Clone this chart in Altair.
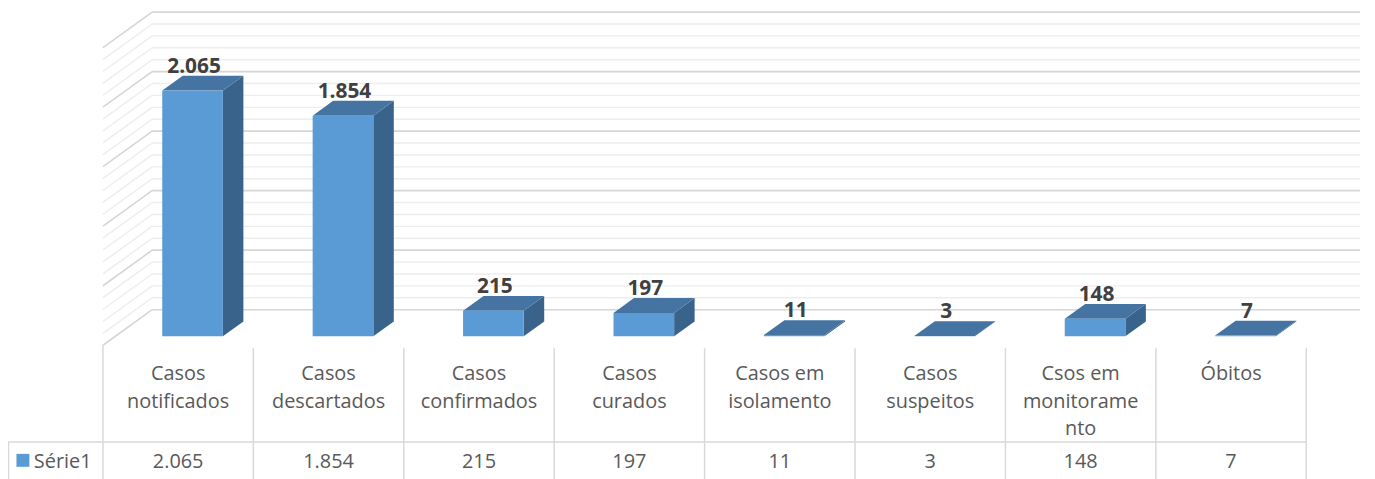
import altair as alt
import pandas as pd

# ---------------- data ----------------
categories = ["Casos notificados", "Casos descartados", "Casos confirmados",
              "Casos curados", "Casos em isolamento", "Casos suspeitos",
              "Csos em monitoramento", "Óbitos"]
header_lines = ["Casos\nnotificados", "Casos\ndescartados", "Casos\nconfirmados",
                "Casos\ncurados", "Casos em\nisolamento", "Casos\nsuspeitos",
                "Csos em\nmonitorame\nnto", "Óbitos"]
values = [2065, 1854, 215, 197, 11, 3, 148, 7]
series_name = "Série1"
grid_values = list(range(0, 2501, 100))
major_step = 500

# ---------------- layout (pixels) ----------------
COL0 = 103.5      # left edge of first table column
COLW = 151.3      # column width
BASE = 336.0      # pixel row of value 0 on the bars' front plane
K = 0.1205        # pixels per value unit
DXD = 1.375       # x shift per pixel of depth


def ux(px):
    return (px - COL0) / COLW


def vy(py):
    return (BASE - py) / K


W, H = 1367, 471
xs = alt.Scale(domain=[ux(8), ux(1375)], nice=False, zero=False)
ys = alt.Scale(domain=[vy(479), vy(5)], nice=False, zero=False)

FRONT = "#5B9BD5"
TOP = "#4574A2"
SIDE = "#3A638B"
GRID_MAJ = "#D6D6D6"
GRID_MIN = "#EDEDED"
TXT = "#595959"
LBL = "#404040"
FONT = "Open Sans"

BAR_W = 61.0
BAR_SHIFT = 14.5
BAR_D = 15.0
bdu = BAR_D * DXD / COLW
bdv = BAR_D / K

wall_u = ux(153)
wall_v = vy(309)
floor_v = vy(345)


def X(f):
    return alt.X(f, type="quantitative", scale=xs, axis=None)


def Y(f):
    return alt.Y(f, type="quantitative", scale=ys, axis=None)


# ---------------- back wall + side wall ----------------
grid = pd.DataFrame({"g": grid_values})
grid["major"] = grid["g"] % major_step == 0
grid["x"] = wall_u
grid["x2"] = ux(1368)
grid["y"] = grid["g"] + wall_v
grid["sx2"] = ux(COL0)
grid["sy2"] = grid["g"] + floor_v

layers = []
for is_major, col, sw in [(False, GRID_MIN, 1.4), (True, GRID_MAJ, 1.6)]:
    sub = grid[grid["major"] == is_major]
    layers.append(alt.Chart(sub).mark_rule(color=col, strokeWidth=sw).encode(
        x=X("x"), x2="x2", y=Y("y")))
    layers.append(alt.Chart(sub).mark_rule(color=col, strokeWidth=sw).encode(
        x=X("x"), x2="sx2", y=Y("y"), y2="sy2"))

# ---------------- bars ----------------
bars = pd.DataFrame({"cat": categories, "value": values})
bars["i"] = range(len(values))
bars["u0"] = bars["i"] + 0.5 + (BAR_SHIFT - BAR_W / 2) / COLW
bars["u1"] = bars["u0"] + BAR_W / COLW
bars["base"] = 0.0
bars["lx"] = (bars["u0"] + bars["u1"]) / 2 + 1.5 / COLW
bars["ly"] = bars["value"] + bdv
bars["label"] = [f"{v:,}".replace(",", ".") for v in values]

side_rows, top_rows = [], []
for _, r in bars.iterrows():
    side_rows.append({"cat": r["cat"], "x": r["u1"], "y": r["value"], "y2": 0.0})
    side_rows.append({"cat": r["cat"], "x": r["u1"] + bdu, "y": r["value"] + bdv, "y2": bdv})
    top_rows.append({"cat": r["cat"], "y": r["value"], "x": r["u0"], "x2": r["u1"]})
    top_rows.append({"cat": r["cat"], "y": r["value"] + bdv, "x": r["u0"] + bdu, "x2": r["u1"] + bdu})
side = pd.DataFrame(side_rows)
top = pd.DataFrame(top_rows)

layers.append(alt.Chart(side).mark_area(color=SIDE, orient="vertical").encode(
    x=X("x"), y=Y("y"), y2="y2", detail="cat:N"))
layers.append(alt.Chart(top).mark_area(color=TOP, orient="horizontal").encode(
    y=Y("y"), x=X("x"), x2="x2", detail="cat:N"))
layers.append(alt.Chart(bars).mark_rect(color=FRONT).encode(
    x=X("u0"), x2="u1", y=Y("base"), y2="value"))
layers.append(alt.Chart(bars).mark_text(
    font=FONT, fontSize=21, fontWeight="bold", color=LBL, align="center",
    baseline="alphabetic", dy=-3).encode(x=X("lx"), y=Y("ly"), text="label:N"))

# ---------------- data table ----------------
TL = "#D9D9D9"
vlines = pd.DataFrame({"x": list(range(len(values) + 1))})
vlines["y"] = [floor_v] + [vy(348)] * len(values)
vlines["y2"] = vy(490)
layers.append(alt.Chart(vlines).mark_rule(color=TL, strokeWidth=1.5).encode(
    x=X("x"), y=Y("y"), y2="y2"))

frame = pd.DataFrame({"x": [ux(8.5), ux(8.5)], "x2": [len(values), ux(8.5)],
                      "y": [vy(443), vy(443)], "y2": [vy(443), vy(490)]})
layers.append(alt.Chart(frame).mark_rule(color=TL, strokeWidth=1.5).encode(
    x=X("x"), x2="x2", y=Y("y"), y2="y2"))

heads = pd.DataFrame({"x": [i + 0.5 for i in range(len(values))],
                      "txt": header_lines, "y": vy(380)})
layers.append(alt.Chart(heads).mark_text(
    font=FONT, fontSize=20, color=TXT, align="center", baseline="alphabetic",
    lineBreak="\n", lineHeight=28).encode(x=X("x"), y=Y("y"), text="txt:N"))

vals = pd.DataFrame({"x": [i + 0.5 for i in range(len(values))],
                     "txt": bars["label"], "y": vy(469)})
layers.append(alt.Chart(vals).mark_text(
    font=FONT, fontSize=20, color=TXT, align="center", baseline="alphabetic").encode(
    x=X("x"), y=Y("y"), text="txt:N"))

leg = pd.DataFrame({"x": [ux(23)], "y": [vy(461.5)], "tx": [ux(34)], "ty": [vy(469)],
                    "name": [series_name]})
layers.append(alt.Chart(leg).mark_square(color=FRONT, size=169, opacity=1).encode(
    x=X("x"), y=Y("y")))
layers.append(alt.Chart(leg).mark_text(
    font=FONT, fontSize=20, color=TXT, align="left", baseline="alphabetic").encode(
    x=X("tx"), y=Y("ty"), text="name:N"))

chart = alt.layer(*layers).properties(
    width=W, height=H, autosize="none", padding=0
).configure_view(strokeWidth=0)

chart.save("out.html", embed_options={"renderer": "svg", "actions": False})
